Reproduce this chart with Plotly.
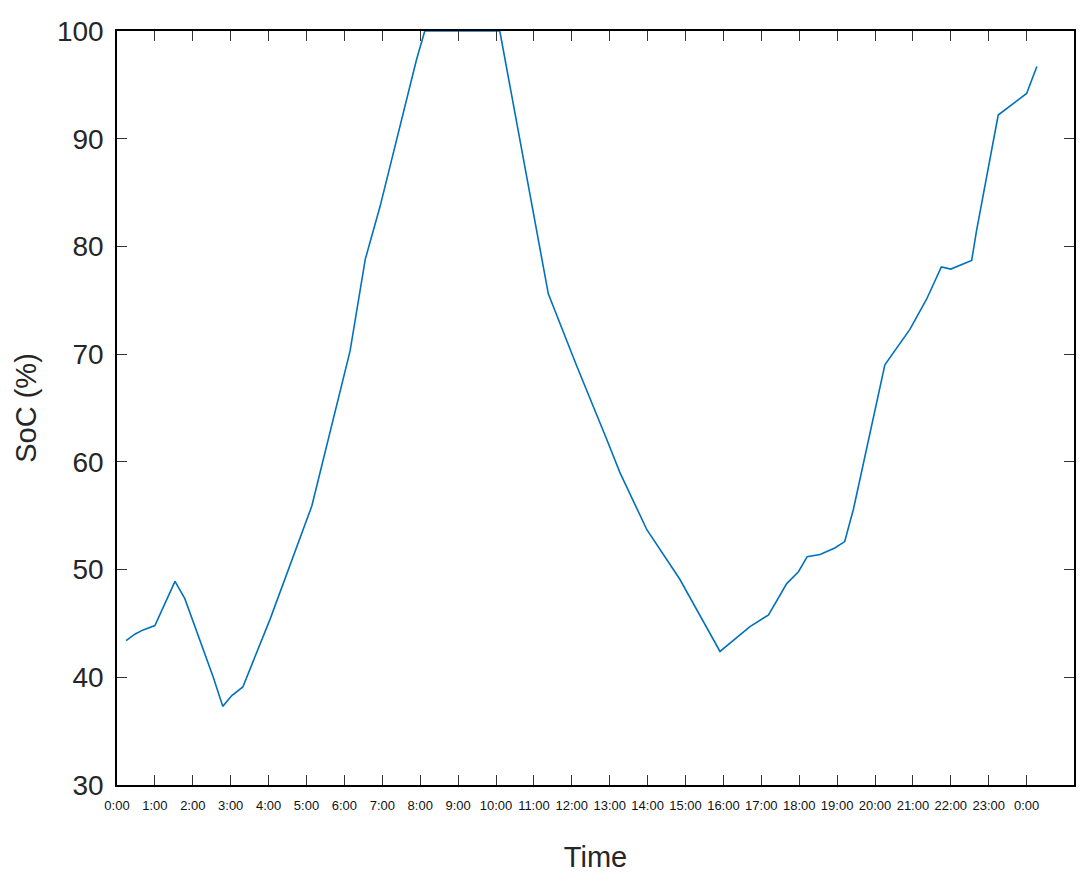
import plotly.graph_objects as go

# SoC over one day (hours since midnight)
hours = [0.24, 0.47, 0.69, 1.0, 1.53, 1.79, 2.54, 2.79, 3.03, 3.32, 4.04, 5.0, 5.14,
         6.15, 6.55, 6.94, 7.9, 8.12, 10.1, 11.38, 12.13, 12.92, 13.27, 13.98, 14.85,
         15.91, 16.7, 17.19, 17.67, 17.98, 18.21, 18.55, 18.94, 19.2, 19.43, 20.26,
         20.92, 21.36, 21.75, 22.0, 22.55, 22.68, 23.25, 24.0, 24.27]
soc = [43.4, 44.0, 44.4, 44.8, 48.9, 47.3, 40.0, 37.3, 38.3, 39.1, 45.4, 54.7, 55.9,
       70.3, 78.8, 83.7, 97.3, 100, 100, 75.6, 68.9, 62.1, 59.0, 53.7, 49.1,
       42.4, 44.7, 45.8, 48.7, 49.8, 51.2, 51.4, 52.0, 52.6, 55.6, 69.0,
       72.3, 75.1, 78.1, 77.9, 78.7, 81.5, 92.2, 94.2, 96.7]

tick_hours = list(range(25))
tick_labels = [f"{h % 24}:00" for h in tick_hours]

fig = go.Figure()
fig.add_trace(go.Scatter(
    x=hours, y=soc, mode='lines',
    line=dict(color='rgb(0,114,189)', width=1.6),
    showlegend=False
))

# page body adds 8px offset, so the figure is sized to fill the rest
fig.update_layout(
    width=1083, height=878,
    paper_bgcolor='white', plot_bgcolor='white',
    margin=dict(l=109, r=17, t=23, b=101, autoexpand=False),
    font=dict(family='Liberation Sans, Arial, sans-serif', color='#262626'),
)

fig.update_xaxes(
    range=[0, 25.25],
    tickvals=tick_hours, ticktext=tick_labels, tickangle=0,
    tickfont=dict(size=13, color='#111'), ticklabelstandoff=8,
    ticks='inside', ticklen=10, tickcolor='#333', tickwidth=1,
    showline=True, linecolor='black', linewidth=1.5, mirror='ticks',
    showgrid=False, zeroline=False, automargin=False,
    title=dict(text='Time', font=dict(size=29), standoff=34),
)
fig.update_yaxes(
    range=[30, 100], dtick=10,
    tickfont=dict(size=28), ticklabelstandoff=6,
    ticks='inside', ticklen=10, tickcolor='#333', tickwidth=1,
    showline=True, linecolor='black', linewidth=1.5, mirror='ticks',
    showgrid=False, zeroline=False, automargin=False,
    title=dict(text='SoC (%)', font=dict(size=29), standoff=12),
)

fig.write_html("out.html")
